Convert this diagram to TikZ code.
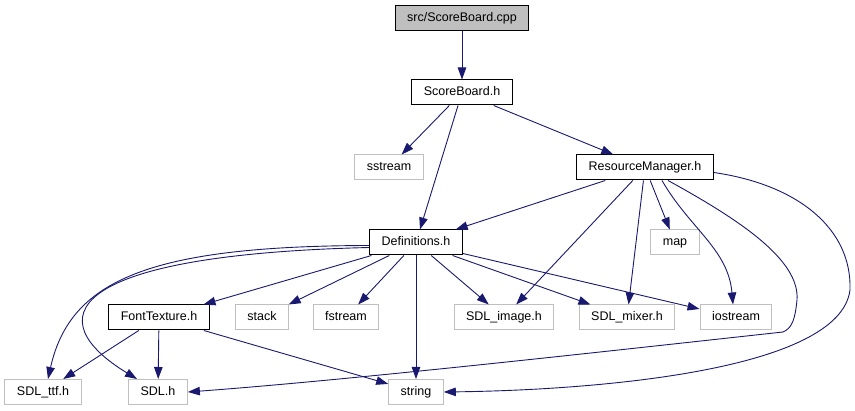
\documentclass[tikz,border=0pt]{standalone}
\usepackage{fontspec}
\setmainfont{Liberation Sans}
\usetikzlibrary{arrows.meta}
\definecolor{edgeblue}{HTML}{191970}
\definecolor{sysgray}{HTML}{BFBFBF}

\begin{document}
\begin{tikzpicture}[x=1pt, y=-1pt,
                file/.style={draw=black, line width=1pt, inner xsep=12pt, inner ysep=0pt,
                        minimum height=25pt, text height=9pt, text depth=2.5pt,
                        font=\fontsize{12.5}{14}\selectfont},
                sys/.style={file, draw=sysgray},
                root/.style={file, fill=sysgray},
                dep/.style={draw=edgeblue, line width=0.9pt,
                        -{Triangle[length=12pt, width=8.5pt]}}]
                \useasboundingbox (0,0) rectangle (855,411);
                % files of the project
                \node[root] (cpp) at (462,18) {src/ScoreBoard.cpp};
                \node[file] (sbh) at (462,92.5) {ScoreBoard.h};
                \node[file] (rm) at (645,167.5) {ResourceManager.h};
                \node[file] (defs) at (416,242.5) {Definitions.h};
                \node[file] (ft) at (159,317.5) {FontTexture.h};
                % system headers
                \node[sys] (sstream) at (389,167.5) {sstream};
                \node[sys] (map) at (675,242.5) {map};
                \node[sys] (stack) at (262,317.5) {stack};
                \node[sys] (fstream) at (346,317.5) {fstream};
                \node[sys] (img) at (504,317.5) {SDL\_image.h};
                \node[sys] (mixer) at (627,317.5) {SDL\_mixer.h};
                \node[sys] (iostream) at (736,317.5) {iostream};
                \node[sys] (ttf) at (43,392) {SDL\_ttf.h};
                \node[sys] (sdl) at (158,392) {SDL.h};
                \node[sys] (str) at (416,392) {string};
                % includes
                \draw[dep] (cpp) -- (sbh);
                \draw[dep] (sbh) -- (sstream);
                \draw[dep] (sbh) -- (defs);
                \draw[dep] (sbh) -- (rm);
                \draw[dep] (rm) -- (defs);
                \draw[dep] (rm) -- (img);
                \draw[dep] (rm) -- (mixer);
                \draw[dep] (rm) -- (map);
                \draw[dep] ([xshift=17pt]rm.south) to[out=-60, in=95] ([xshift=-3pt]iostream.north);
                \draw[dep] ([xshift=23pt]rm.south) .. controls (740,220) and (800,260) .. (797,300)
                        .. controls (795,320) and (792,328) .. (783,332)
                        .. controls (600,352) and (350,380) .. (sdl.east);
                \draw[dep] ([yshift=-5pt]rm.east) .. controls (800,185) and (852,230) .. (850,290)
                        .. controls (840,370) and (600,390) .. (str.east);
                \draw[dep] (defs) -- (ft);
                \draw[dep] (defs) -- (stack);
                \draw[dep] (defs) -- (fstream);
                \draw[dep] (defs) -- (str);
                \draw[dep] (defs) -- (img);
                \draw[dep] (defs) -- (mixer);
                \draw[dep] (defs) -- (iostream);
                \draw[dep] ([yshift=-3pt]defs.west) .. controls (150,246) and (70,280) .. ([xshift=5pt]ttf.north);
                \draw[dep] ([yshift=-5pt]defs.west) .. controls (60,255) and (40,320) .. ([xshift=-21pt]sdl.north);
                \draw[dep] (ft) -- (ttf);
                \draw[dep] (ft) -- (sdl);
                \draw[dep] (ft) -- (str);
\end{tikzpicture}
\end{document}
